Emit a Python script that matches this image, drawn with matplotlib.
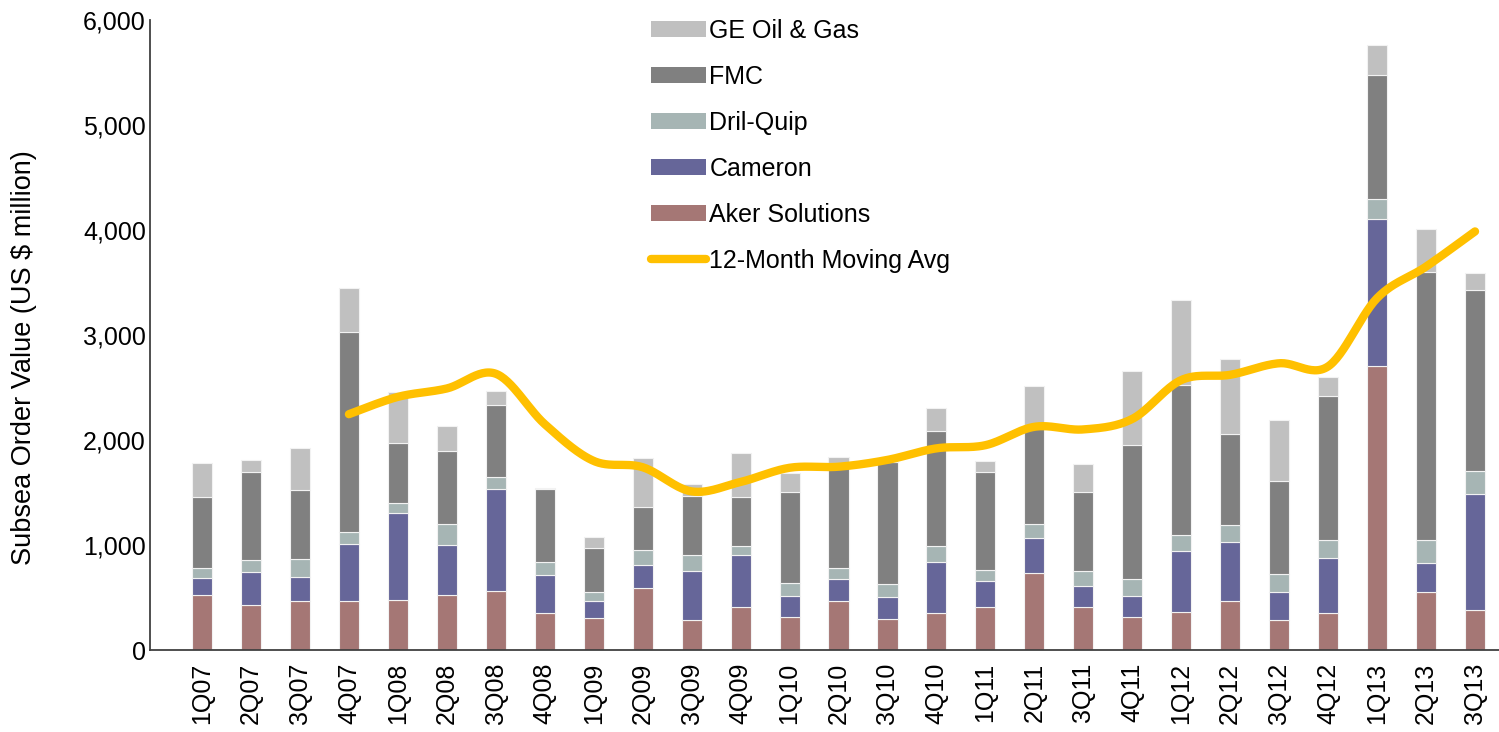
import numpy as np
import matplotlib
matplotlib.use("Agg")
import matplotlib.pyplot as plt
from matplotlib.patches import Patch
from matplotlib.lines import Line2D
from matplotlib.ticker import FuncFormatter

plt.rcParams['font.family'] = ['Liberation Sans', 'DejaVu Sans']

quarters = ["1Q07", "2Q07", "3Q07", "4Q07", "1Q08", "2Q08", "3Q08", "4Q08",
            "1Q09", "2Q09", "3Q09", "4Q09", "1Q10", "2Q10", "3Q10", "4Q10",
            "1Q11", "2Q11", "3Q11", "4Q11", "1Q12", "2Q12", "3Q12", "4Q12",
            "1Q13", "2Q13", "3Q13"]

aker     = [524, 429, 467, 467, 476, 524, 562, 349, 302, 587, 286, 407, 311, 467,
            295, 349, 406, 736, 406, 312, 359, 465, 281, 355, 2701, 557, 378]
cameron  = [165, 317, 231, 543, 826, 476, 971, 368, 168, 225, 463, 498, 206, 209,
            210, 489, 251, 334, 207, 204, 584, 567, 273, 517, 1405, 273, 1109]
dril     = [95, 111, 166, 114, 98, 197, 118, 118, 84, 140, 156, 85, 121, 108,
            124, 152, 105, 130, 139, 156, 155, 155, 171, 176, 183, 218, 214]
fmc      = [676, 841, 660, 1908, 575, 698, 682, 695, 417, 413, 565, 467, 870, 1000,
            1161, 1096, 933, 943, 750, 1280, 1428, 872, 886, 1373, 1186, 2552, 1731]
ge       = [325, 112, 400, 416, 485, 238, 130, 10, 108, 467, 108, 416, 181, 58,
            0, 222, 108, 374, 273, 705, 809, 708, 576, 175, 284, 404, 156]

# 12-month moving average, starts at 4Q07
mavg = [2245, 2410, 2490, 2630, 2150, 1800, 1740, 1510, 1600, 1735, 1745, 1810,
        1920, 1950, 2125, 2100, 2200, 2570, 2620, 2730, 2700, 3350, 3650, 3985]

series = [("Aker Solutions", aker, "#A57775"),
          ("Cameron", cameron, "#666699"),
          ("Dril-Quip", dril, "#A6B5B4"),
          ("FMC", fmc, "#808080"),
          ("GE Oil & Gas", ge, "#C0C0C0")]
line_color = "#FFC000"


def smooth(xs, ys, n=30):
    # bezier smoothing similar to a spreadsheet "smoothed line"
    xs = np.asarray(xs, float)
    ys = np.asarray(ys, float)
    px = np.concatenate([[xs[0]], xs, [xs[-1]]])
    py = np.concatenate([[ys[0]], ys, [ys[-1]]])
    out_x, out_y = [], []
    t = np.linspace(0, 1, n)
    for i in range(1, len(px) - 2):
        p0, p1, p2, p3 = (np.array([px[j], py[j]]) for j in (i - 1, i, i + 1, i + 2))
        c1 = p1 + (p2 - p0) / 6
        c2 = p2 - (p3 - p1) / 6
        b = ((1 - t) ** 3)[:, None] * p1 + (3 * (1 - t) ** 2 * t)[:, None] * c1 \
            + (3 * (1 - t) * t ** 2)[:, None] * c2 + (t ** 3)[:, None] * p2
        out_x.extend(b[:, 0])
        out_y.extend(b[:, 1])
    return out_x, out_y


fig = plt.figure(figsize=(14.99, 7.32), dpi=100)
ax = fig.add_axes([0.1001, 0.112, 0.8999, 0.861])

x = np.arange(len(quarters))
bottom = np.zeros(len(quarters))
for name, vals, col in series:
    ax.bar(x, vals, width=0.41, bottom=bottom, color=col,
           edgecolor="#F2F2F2", linewidth=0.8, zorder=2)
    bottom += np.array(vals)

lx, ly = smooth(x[3:], mavg)
ax.plot(lx, ly, color=line_color, linewidth=6, solid_capstyle="round", zorder=3)

ax.set_xlim(-1.062, 26.49)
ax.set_ylim(0, 6000)
ax.set_yticks(range(0, 6001, 1000))
ax.yaxis.set_major_formatter(FuncFormatter(lambda v, p: f"{int(v):,}"))
ax.set_xticks(x)
ax.set_xticklabels(quarters, rotation=90)
ax.tick_params(axis="both", length=0, labelsize=18, colors="black")
ax.tick_params(axis="x", pad=9)
ax.tick_params(axis="y", pad=3)
for s in ("top", "right"):
    ax.spines[s].set_visible(False)
for s in ("left", "bottom"):
    ax.spines[s].set_color("#404040")
    ax.spines[s].set_linewidth(1.3)

ax.set_ylabel("Subsea Order Value (US $ million)", fontsize=19.5)
ax.yaxis.set_label_coords(-0.0838, 0.4635)

handles = [Patch(facecolor=c, edgecolor="none") for _, _, c in series[::-1]]
labels = [n for n, _, _ in series[::-1]]
handles.append(Line2D([0], [0], color=line_color, linewidth=6, solid_capstyle="round"))
labels.append("12-Month Moving Avg")
fig.legend(handles, labels, loc="upper left", bbox_to_anchor=(0.419, 1.005),
           frameon=False, fontsize=18, handlelength=2.2, handleheight=0.6,
           handletextpad=0.15, labelspacing=0.88)

fig.savefig("out.png", dpi=100)
